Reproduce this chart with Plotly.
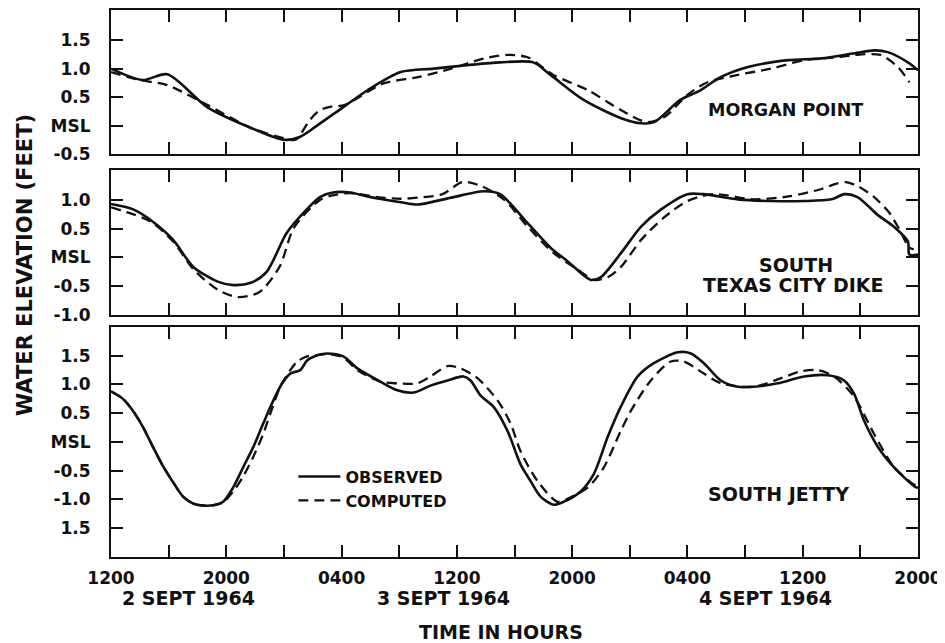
import plotly.graph_objects as go
from plotly.subplots import make_subplots

# hours after 1200, 2 Sept 1964
mp_obs_t = [0, 2.2, 3.9, 6.7, 9.7, 12.0, 13.1, 14.3, 16.1, 17.8, 20.1, 22.4, 24.7, 27.0, 29.3, 30.5, 32.8, 35.4, 36.8, 37.7, 39.5, 40.9, 42.3, 44.2, 47.0, 49.3, 51.6, 53.0, 53.9, 55.3, 56]
mp_obs_v = [1.0, 0.80, 0.90, 0.32, -0.04, -0.25, -0.2, 0.0, 0.32, 0.62, 0.94, 1.0, 1.06, 1.11, 1.11, 0.89, 0.45, 0.13, 0.04, 0.06, 0.45, 0.62, 0.85, 1.03, 1.15, 1.18, 1.27, 1.32, 1.29, 1.11, 0.97]
mp_cmp_t = [0, 2.0, 3.9, 6.7, 9.7, 12.0, 12.8, 13.8, 14.5, 15.2, 16.2, 18.9, 21.3, 23.6, 25.9, 27.5, 28.9, 30.7, 33.1, 35.4, 37.2, 38.4, 40.0, 41.4, 43.5, 45.8, 48.1, 50.5, 51.6, 53.4, 54.6, 55.4]
mp_cmp_v = [0.94, 0.80, 0.71, 0.36, -0.04, -0.22, -0.25, 0.10, 0.27, 0.33, 0.36, 0.74, 0.85, 1.0, 1.18, 1.24, 1.20, 0.89, 0.62, 0.27, 0.06, 0.15, 0.54, 0.76, 0.89, 1.0, 1.15, 1.20, 1.24, 1.24, 1.03, 0.76]

tc_obs_t = [0, 1.5, 2.7, 4.3, 5.7, 7.4, 8.5, 9.7, 10.8, 12.2, 13.6, 14.5, 15.4, 16.6, 17.8, 20.1, 21.3, 23.6, 25.9, 27.0, 28.9, 30.5, 31.7, 33.3, 34.0, 35.4, 36.8, 38.2, 40.0, 41.1, 43.5, 45.8, 48.1, 50.0, 50.9, 51.8, 53.2, 54.3, 55.3, 55.4, 56]
tc_obs_v = [0.93, 0.84, 0.66, 0.31, -0.16, -0.42, -0.48, -0.44, -0.25, 0.43, 0.84, 1.05, 1.13, 1.13, 1.06, 0.96, 0.92, 1.04, 1.15, 1.10, 0.60, 0.17, -0.07, -0.39, -0.34, 0.08, 0.54, 0.84, 1.10, 1.10, 1.01, 0.98, 0.98, 1.01, 1.10, 1.05, 0.74, 0.54, 0.28, 0.05, 0.05]
tc_cmp_t = [0, 2.7, 4.3, 5.7, 7.4, 8.8, 10.3, 11.7, 12.7, 14.5, 15.4, 16.6, 18.5, 20.1, 21.3, 23.0, 24.4, 25.7, 27.3, 28.9, 30.7, 32.4, 33.5, 34.5, 35.4, 36.8, 38.4, 40.0, 41.8, 44.6, 47.0, 49.3, 50.3, 51.0, 51.8, 52.9, 54.0, 54.7, 55.4, 55.7]
tc_cmp_v = [0.87, 0.63, 0.28, -0.2, -0.56, -0.69, -0.60, -0.16, 0.52, 1.0, 1.08, 1.12, 1.05, 1.02, 1.04, 1.10, 1.31, 1.24, 1.0, 0.54, 0.08, -0.21, -0.39, -0.34, -0.16, 0.31, 0.70, 0.98, 1.10, 1.01, 1.06, 1.19, 1.28, 1.31, 1.24, 1.06, 0.78, 0.49, 0.17, 0.14]

sj_obs_t = [0, 0.83, 1.53, 2.22, 2.92, 3.61, 4.31, 5.0, 5.7, 6.18, 7.09, 7.78, 8.48, 9.17, 9.87, 10.56, 11.26, 11.88, 12.44, 13.13, 13.62, 14.32, 15.0, 16.12, 17.1, 18.69, 19.87, 20.99, 22.17, 23.35, 24.46, 24.95, 25.64, 26.55, 27.52, 28.42, 29.12, 29.81, 30.72, 31.41, 32.59, 33.5, 34.47, 35.37, 36.55, 37.67, 39.33, 40.24, 41.14, 42.32, 43.5, 44.61, 46.28, 48.09, 49.76, 50.87, 51.56, 52.26, 53.23, 54.34, 55.73, 56]
sj_obs_v = [0.88, 0.75, 0.54, 0.26, -0.09, -0.42, -0.70, -0.95, -1.07, -1.10, -1.10, -1.04, -0.79, -0.44, -0.09, 0.32, 0.72, 1.02, 1.19, 1.25, 1.42, 1.51, 1.54, 1.49, 1.28, 1.05, 0.90, 0.86, 0.98, 1.07, 1.14, 1.07, 0.81, 0.61, 0.19, -0.39, -0.68, -0.95, -1.09, -1.04, -0.86, -0.56, 0.09, 0.61, 1.14, 1.37, 1.56, 1.54, 1.37, 1.07, 0.96, 0.96, 1.02, 1.14, 1.16, 1.07, 0.84, 0.37, -0.09, -0.44, -0.77, -0.80]
sj_cmp_t = [0, 0.83, 1.53, 2.22, 2.92, 3.61, 4.31, 5.0, 5.7, 6.18, 7.09, 7.78, 8.48, 9.17, 9.87, 10.56, 11.05, 11.74, 12.44, 12.93, 13.62, 14.32, 15.0, 16.12, 17.1, 18.69, 19.87, 21.27, 22.17, 23.35, 24.25, 25.43, 26.83, 27.73, 28.42, 29.6, 31.0, 31.9, 33.1, 34.2, 35.37, 36.07, 37.46, 38.85, 39.75, 41.14, 42.32, 44.6, 46.5, 47.9, 49.06, 50.17, 51.56, 52.95, 54.34, 55.73, 56]
sj_cmp_v = [0.88, 0.75, 0.54, 0.26, -0.09, -0.42, -0.70, -0.95, -1.07, -1.10, -1.10, -1.05, -0.86, -0.60, -0.26, 0.14, 0.49, 0.96, 1.25, 1.40, 1.49, 1.51, 1.53, 1.47, 1.25, 1.05, 1.02, 1.02, 1.14, 1.32, 1.28, 1.11, 0.72, 0.32, -0.16, -0.68, -1.04, -0.96, -0.79, -0.44, 0.19, 0.54, 1.07, 1.40, 1.40, 1.19, 1.02, 0.96, 1.11, 1.23, 1.25, 1.14, 0.79, 0.14, -0.44, -0.74, -0.76]

x_tickvals = list(range(0, 57, 4))
x_ticktext = ["1200", "", "2000", "", "0400", "", "1200", "", "2000", "", "0400", "", "1200", "", "2000"]
date_labels = ["2 SEPT 1964", "3 SEPT 1964", "4 SEPT 1964"]
date_pos = [5.35, 23.1, 45.4]

y1_vals = [1.5, 1.0, 0.5, 0, -0.5]
y1_text = ["1.5", "1.0", "0.5", "MSL", "-0.5"]
y2_vals = [1.0, 0.5, 0, -0.5, -1.0]
y2_text = ["1.0", "0.5", "MSL", "-0.5", "-1.0"]
y3_vals = [1.5, 1.0, 0.5, 0, -0.5, -1.0, -1.5]
y3_text = ["1.5", "1.0", "0.5", "MSL", "-0.5", "-1.0", "1.5"]

INK = "#111111"
FONT = "DejaVu Sans"


def f(size):
    return dict(family=FONT, size=size, color=INK, weight="bold")


fig = make_subplots(rows=3, cols=1, shared_xaxes=False, vertical_spacing=0.02)

panels = [
    (mp_obs_t, mp_obs_v, mp_cmp_t, mp_cmp_v),
    (tc_obs_t, tc_obs_v, tc_cmp_t, tc_cmp_v),
    (sj_obs_t, sj_obs_v, sj_cmp_t, sj_cmp_v),
]
for i, (ot, ov, ct, cv) in enumerate(panels):
    r = i + 1
    fig.add_trace(go.Scatter(x=ot, y=ov, mode="lines", name="OBSERVED",
                             line=dict(color=INK, width=2.6, shape="spline", smoothing=0.8),
                             legendgroup="obs", showlegend=(r == 3)), row=r, col=1)
    fig.add_trace(go.Scatter(x=ct, y=cv, mode="lines", name="COMPUTED",
                             line=dict(color=INK, width=2.3, dash="10px,6px", shape="spline", smoothing=0.8),
                             legendgroup="cmp", showlegend=(r == 3)), row=r, col=1)

domains = [[0.7367, 1.0], [0.4424, 0.7075], [0.0, 0.4205]]
yranges = [[-0.5, 2.03], [-1.0, 1.52], [-2.0, 2.0]]
yticks = [(y1_vals, y1_text), (y2_vals, y2_text), (y3_vals, y3_text)]

for i in range(3):
    r = i + 1
    fig.update_xaxes(row=r, col=1, range=[0, 56], tickmode="array", tickvals=x_tickvals,
                     ticktext=x_ticktext, ticks="inside", ticklen=12, tickwidth=2,
                     tickcolor=INK, showline=True, linecolor=INK, linewidth=2,
                     mirror="ticks", showgrid=False, zeroline=False, automargin=False,
                     showticklabels=(r == 3), tickfont=f(17), ticklabelstandoff=5)
    fig.update_yaxes(row=r, col=1, range=yranges[i], domain=domains[i], tickmode="array",
                     tickvals=yticks[i][0], ticktext=yticks[i][1], ticks="inside",
                     ticklen=12, tickwidth=2, tickcolor=INK, showline=True, linecolor=INK,
                     linewidth=2, mirror="ticks", showgrid=False, zeroline=False,
                     automargin=False, tickfont=f(17), ticklabelstandoff=15)

fig.add_annotation(x=46.8, y=0.27, xref="x", yref="y", text="MORGAN POINT",
                   showarrow=False, font=f(17.5))
fig.add_annotation(x=47.5, y=-0.13, xref="x2", yref="y2", text="SOUTH",
                   showarrow=False, font=f(19))
fig.add_annotation(x=47.3, y=-0.48, xref="x2", yref="y2", text="TEXAS CITY DIKE",
                   showarrow=False, font=f(19))
fig.add_annotation(x=46.35, y=-0.91, xref="x3", yref="y3", text="SOUTH JETTY",
                   showarrow=False, font=f(19))
for lbl, pos in zip(date_labels, date_pos):
    fig.add_annotation(x=pos, y=-0.075, xref="x3", yref="paper", text=lbl,
                       showarrow=False, font=f(19), yanchor="middle")
fig.add_annotation(x=0.483, y=-0.137, xref="paper", yref="paper", text="TIME IN HOURS",
                   showarrow=False, font=f(19), xanchor="center", yanchor="middle")
fig.add_annotation(x=-0.1066, y=0.534, xref="paper", yref="paper",
                   text="WATER ELEVATION (FEET)", textangle=-90, xanchor="center",
                   yanchor="middle", showarrow=False, font=f(21))

# the page body adds an 8px offset, so the figure is sized 8px smaller
fig.update_layout(
    width=937, height=635,
    margin=dict(l=103, r=27, t=2, b=86, autoexpand=False),
    paper_bgcolor="white", plot_bgcolor="white",
    showlegend=True,
    legend=dict(x=0.226, y=0.178, xanchor="left", yanchor="top",
                bgcolor="rgba(0,0,0,0)", font=f(16),
                tracegroupgap=0, itemwidth=42),
)

fig.write_html("out.html")
